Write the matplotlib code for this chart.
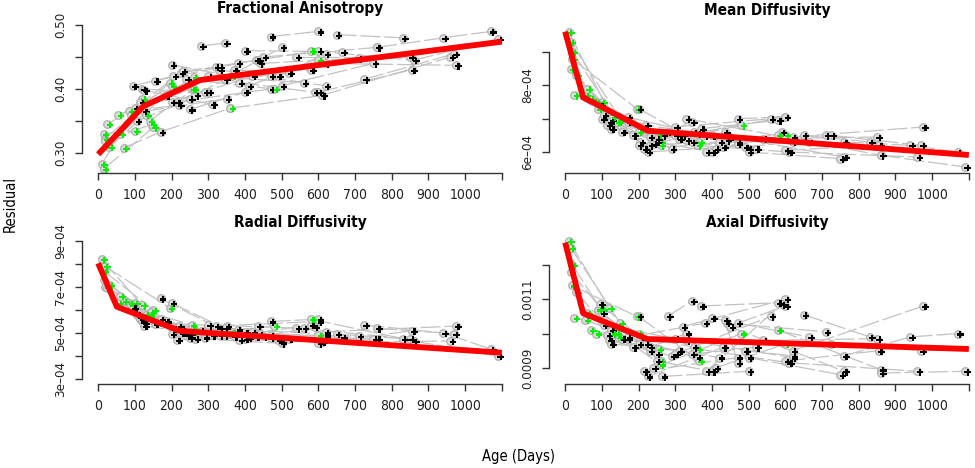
import matplotlib
matplotlib.use('Agg')
import matplotlib.pyplot as plt
from matplotlib.transforms import offset_copy

plt.rcParams['font.family'] = ['DejaVu Sans']
plt.rcParams['font.stretch'] = 'condensed'

# visit ages (days) for each subject
ages = [
    (10, 120), (15, 150), (15, 100), (18, 195), (20, 145), (25, 200),
    (55, 255), (70, 170), (85, 220), (90, 260), (95, 205), (100, 230),
    (105, 300), (115, 250), (120, 290), (125, 310), (125, 350), (155, 380),
    (170, 360), (200, 365), (215, 470), (225, 430), (240, 480), (250, 400),
    (265, 500), (280, 345), (300, 560), (320, 600), (330, 620), (360, 610),
    (370, 580), (385, 590), (400, 665), (410, 600), (440, 710), (450, 760),
    (470, 600), (490, 620), (500, 750), (540, 850), (580, 860), (600, 855),
    (610, 960), (620, 975), (650, 830), (725, 970), (760, 940, 1070),
    (860, 1090), (230, 330), (140, 260), (345, 520), (200, 420), (60, 185),
    (30, 130), (435, 470),
]

fa = [
    (0.283, 0.385), (0.275, 0.340), (0.330, 0.335), (0.322, 0.410), (0.318, 0.345), (0.345, 0.405),
    (0.360, 0.400), (0.308, 0.333), (0.365, 0.375), (0.360, 0.418), (0.405, 0.420), (0.370, 0.428),
    (0.350, 0.395), (0.380, 0.385), (0.400, 0.395), (0.398, 0.376), (0.365, 0.385), (0.413, 0.440),
    (0.333, 0.370), (0.438, 0.420), (0.380, 0.400), (0.425, 0.445), (0.415, 0.400), (0.368, 0.395),
    (0.390, 0.465), (0.467, 0.472), (0.420, 0.410), (0.435, 0.460), (0.430, 0.405), (0.370, 0.390),
    (0.430, 0.430), (0.410, 0.395), (0.460, 0.458), (0.405, 0.445), (0.440, 0.448), (0.450, 0.465),
    (0.482, 0.490), (0.420, 0.455), (0.405, 0.440), (0.450, 0.450), (0.460, 0.445), (0.395, 0.430),
    (0.390, 0.450), (0.440, 0.437), (0.485, 0.480), (0.415, 0.455), (0.465, 0.480, 0.490),
    (0.445, 0.478), (0.428, 0.435), (0.350, 0.400), (0.415, 0.425), (0.380, 0.420), (0.330, 0.390),
    (0.310, 0.360), (0.445, 0.420),
]

md = [
    (9.60e-4, 7.20e-4), (9.30e-4, 7.00e-4), (8.50e-4, 7.50e-4), (8.80e-4, 7.30e-4), (9.00e-4, 6.90e-4), (7.70e-4, 6.60e-4),
    (7.70e-4, 6.50e-4), (7.60e-4, 6.90e-4), (7.50e-4, 6.80e-4), (7.30e-4, 6.30e-4), (7.40e-4, 6.30e-4), (7.00e-4, 6.20e-4),
    (7.10e-4, 6.50e-4), (6.80e-4, 6.40e-4), (6.90e-4, 6.10e-4), (6.70e-4, 6.40e-4), (6.95e-4, 6.60e-4), (6.60e-4, 6.50e-4),
    (7.05e-4, 6.55e-4), (7.30e-4, 6.30e-4), (6.10e-4, 6.30e-4), (6.00e-4, 6.15e-4), (6.25e-4, 6.80e-4), (6.30e-4, 6.00e-4),
    (6.50e-4, 6.10e-4), (6.60e-4, 6.90e-4), (6.75e-4, 7.00e-4), (6.50e-4, 7.05e-4), (7.00e-4, 6.40e-4), (6.20e-4, 6.00e-4),
    (6.70e-4, 6.95e-4), (6.00e-4, 6.60e-4), (6.50e-4, 6.30e-4), (6.10e-4, 6.50e-4), (6.35e-4, 6.50e-4), (6.45e-4, 5.85e-4),
    (7.00e-4, 7.05e-4), (6.15e-4, 6.30e-4), (6.00e-4, 5.80e-4), (6.40e-4, 6.45e-4), (6.50e-4, 5.90e-4), (6.05e-4, 6.20e-4),
    (6.00e-4, 5.85e-4), (6.45e-4, 6.75e-4), (6.50e-4, 6.30e-4), (6.50e-4, 6.20e-4), (6.30e-4, 6.20e-4, 6.00e-4),
    (5.90e-4, 5.55e-4), (6.45e-4, 6.35e-4), (6.90e-4, 6.20e-4), (6.30e-4, 6.10e-4), (6.20e-4, 6.30e-4), (7.90e-4, 6.50e-4),
    (8.30e-4, 7.05e-4), (6.60e-4, 6.25e-4),
]

rd = [
    (8.20e-4, 6.20e-4), (7.70e-4, 6.00e-4), (7.30e-4, 6.30e-4), (7.90e-4, 6.10e-4), (7.00e-4, 5.90e-4), (6.95e-4, 5.20e-4),
    (6.30e-4, 5.35e-4), (6.40e-4, 5.60e-4), (6.30e-4, 5.30e-4), (6.20e-4, 5.05e-4), (6.10e-4, 5.20e-4), (5.90e-4, 5.00e-4),
    (5.80e-4, 5.10e-4), (5.60e-4, 4.95e-4), (5.50e-4, 4.80e-4), (5.30e-4, 4.90e-4), (5.45e-4, 5.30e-4), (5.40e-4, 5.15e-4),
    (6.50e-4, 4.95e-4), (6.30e-4, 5.05e-4), (4.70e-4, 4.90e-4), (5.00e-4, 4.85e-4), (4.90e-4, 5.30e-4), (4.80e-4, 4.75e-4),
    (4.75e-4, 4.55e-4), (5.10e-4, 5.20e-4), (5.35e-4, 5.20e-4), (5.30e-4, 5.50e-4), (5.20e-4, 4.95e-4), (5.00e-4, 4.60e-4),
    (4.85e-4, 5.35e-4), (4.70e-4, 5.25e-4), (5.05e-4, 4.80e-4), (4.80e-4, 4.90e-4), (4.95e-4, 4.85e-4), (4.85e-4, 4.75e-4),
    (5.50e-4, 5.60e-4), (4.70e-4, 4.85e-4), (4.60e-4, 4.75e-4), (5.20e-4, 4.75e-4), (5.60e-4, 4.65e-4), (4.55e-4, 5.10e-4),
    (4.60e-4, 4.65e-4), (5.05e-4, 5.30e-4), (4.95e-4, 4.75e-4), (5.35e-4, 4.95e-4), (5.20e-4, 5.00e-4, 4.30e-4),
    (4.65e-4, 4.00e-4), (5.10e-4, 4.90e-4), (5.75e-4, 5.15e-4), (4.90e-4, 4.75e-4), (4.95e-4, 5.05e-4), (6.60e-4, 5.50e-4),
    (7.10e-4, 5.80e-4), (5.30e-4, 4.80e-4),
]

ad = [
    (1.270e-3, 1.075e-3), (1.250e-3, 1.030e-3), (1.180e-3, 1.070e-3), (1.140e-3, 1.050e-3), (1.200e-3, 0.990e-3), (1.045e-3, 1.000e-3),
    (1.040e-3, 0.955e-3), (1.010e-3, 0.985e-3), (1.000e-3, 0.970e-3), (1.070e-3, 0.920e-3), (1.085e-3, 0.990e-3), (1.060e-3, 0.950e-3),
    (1.025e-3, 0.985e-3), (0.995e-3, 0.940e-3), (0.980e-3, 0.935e-3), (0.970e-3, 0.950e-3), (1.010e-3, 0.960e-3), (0.985e-3, 1.030e-3),
    (0.990e-3, 0.930e-3), (1.050e-3, 0.920e-3), (0.890e-3, 0.930e-3), (0.875e-3, 0.960e-3), (0.900e-3, 1.000e-3), (0.920e-3, 0.890e-3),
    (0.875e-3, 0.890e-3), (1.050e-3, 1.095e-3), (0.940e-3, 1.050e-3), (1.020e-3, 1.100e-3), (0.980e-3, 0.930e-3), (0.955e-3, 0.915e-3),
    (1.080e-3, 1.090e-3), (0.890e-3, 1.085e-3), (1.045e-3, 0.990e-3), (0.900e-3, 0.970e-3), (1.030e-3, 1.005e-3), (1.020e-3, 0.890e-3),
    (1.030e-3, 1.080e-3), (0.950e-3, 0.935e-3), (0.930e-3, 0.880e-3), (0.980e-3, 0.985e-3), (1.010e-3, 0.895e-3), (0.920e-3, 0.950e-3),
    (0.915e-3, 0.890e-3), (0.950e-3, 1.080e-3), (1.055e-3, 0.990e-3), (0.970e-3, 0.950e-3), (0.935e-3, 0.990e-3, 1.000e-3),
    (0.885e-3, 0.890e-3), (0.960e-3, 1.000e-3), (1.000e-3, 0.910e-3), (0.940e-3, 0.960e-3), (0.970e-3, 0.930e-3), (1.060e-3, 0.960e-3),
    (1.120e-3, 1.000e-3), (1.040e-3, 0.915e-3),
]

# group of each visit: g = green, k = black
groups = [
    "gg", "gg", "gg", "gg", "gg", "gg", "gg", "gk", "gk", "gg", "kk", "kk",
    "kk", "kk", "kk", "kk", "kk", "kk", "kk", "kg", "kk", "kk", "kg", "kk",
    "kk", "kk", "kk", "kk", "kk", "gk", "kk", "kk", "kk", "kg", "kk", "kk",
    "kk", "kk", "kk", "kk", "gk", "kk", "kk", "kk", "kk", "kk", "kkk",
    "kk", "kk", "gg", "kk", "kk", "gk", "gg", "kk",
]

# piecewise fitted trajectories
fit_age_fa = [0, 123, 278, 1100]
fit_fa = [0.298, 0.373, 0.414, 0.474]
fit_age_md = [0, 49, 224, 1100]
fit_md = [9.61e-4, 7.64e-4, 6.64e-4, 5.91e-4]
fit_age_rd = [0, 51, 223, 1100]
fit_rd = [8.03e-4, 6.14e-4, 5.09e-4, 4.14e-4]
fit_age_ad = [0, 49, 224, 1100]
fit_ad = [1.265e-3, 1.059e-3, 0.984e-3, 0.955e-3]

W, H = 975, 468
fig = plt.figure(figsize=(W / 100, H / 100), dpi=100)

def rect(left, top, width, bottom):
    return [left / W, 1 - bottom / H, width / W, (bottom - top) / H]

panels = [
    dict(title="Fractional Anisotropy", vals=fa, fx=fit_age_fa, fy=fit_fa,
         rect=rect(82, 19, 436, 173), ylim=(0.26875, 0.5094), tpad=4.3,
         yt=[0.30, 0.35, 0.40, 0.45, 0.50], yl=["0.30", "", "0.40", "", "0.50"]),
    dict(title="Mean Diffusivity", vals=md, fx=fit_age_md, fy=fit_md,
         rect=rect(549, 21, 436, 173), ylim=(5.37e-4, 9.93e-4), tpad=4.3,
         yt=[6e-4, 7e-4, 8e-4, 9e-4], yl=["6e\u201304", "", "8e\u201304", ""]),
    dict(title="Radial Diffusivity", vals=rd, fx=fit_age_rd, fy=fit_rd,
         rect=rect(82, 235, 436, 384), ylim=(2.78e-4, 9.26e-4), tpad=5.8,
         yt=[3e-4, 4e-4, 5e-4, 6e-4, 7e-4, 8e-4, 9e-4],
         yl=["3e\u201304", "", "5e\u201304", "", "7e\u201304", "", "9e\u201304"]),
    dict(title="Axial Diffusivity", vals=ad, fx=fit_age_ad, fy=fit_ad,
         rect=rect(549, 235, 436, 384), ylim=(8.53e-4, 1.287e-3), tpad=5.8,
         yt=[0.0009, 0.0010, 0.0011, 0.0012], yl=["0.0009", "", "0.0011", ""]),
]

colour = {"g": "#00ee00", "k": "black"}
xt = list(range(0, 1200, 100))
xl = [str(t) for t in xt[:-1]] + [""]

for p in panels:
    ax = fig.add_axes(p["rect"])
    ax.set_xlim(-44, 1144)
    ax.set_ylim(*p["ylim"])
    dots = offset_copy(ax.transData, fig=fig, x=2.5, y=-1, units="dots")
    for a, v, g in zip(ages, p["vals"], groups):
        ax.plot(a, v, color="#c2c2c2", lw=0.9, ls=(0, (16, 3)), zorder=1)
        ax.scatter(a, v, s=30, facecolor="#dcdcdc", edgecolor="#b0b0b0", lw=0.9, zorder=2)
        ax.scatter(a, v, s=22, marker="P", c=[colour[c] for c in g], lw=0,
                   transform=dots, zorder=3)
    ax.plot(p["fx"], p["fy"], color="red", lw=4.2, solid_capstyle="butt", zorder=4)

    ax.set_title(p["title"], fontsize=11, fontweight="bold", pad=p["tpad"])
    for s in ["top", "right"]:
        ax.spines[s].set_visible(False)
    ax.spines["left"].set_bounds(p["yt"][0], p["yt"][-1])
    ax.spines["bottom"].set_bounds(0, 1100)
    for s in ["left", "bottom"]:
        ax.spines[s].set_color("#333333")
        ax.spines[s].set_linewidth(1)
    ax.set_xticks(xt)
    ax.set_xticklabels(xl)
    ax.set_yticks(p["yt"])
    ax.set_yticklabels(p["yl"], rotation=90, va="center")
    ax.tick_params(length=5, width=1, color="#333333", labelsize=10, pad=5.5,
                   labelcolor="#222222")
    ax.tick_params(axis="y", labelsize=9.5)

fig.text(10 / W, 1 - 204 / H, "Residual", rotation=90, ha="center", va="center",
         fontsize=10.5)
fig.text(518 / W, 1 - 457 / H, "Age (Days)", ha="center", va="center", fontsize=10.5)

plt.savefig("out.png", dpi=100)
plt.close()
